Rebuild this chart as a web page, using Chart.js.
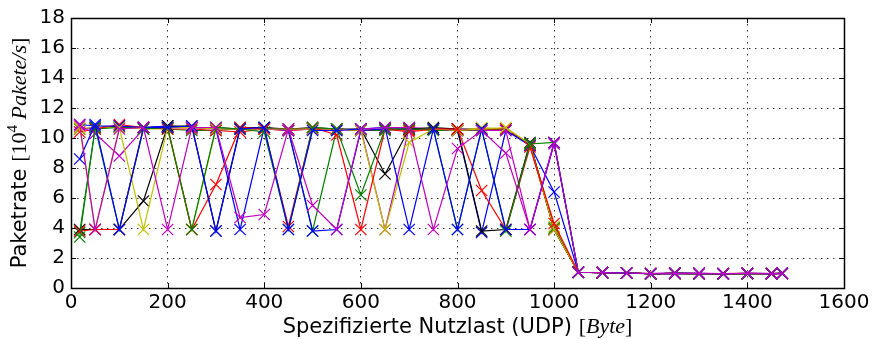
<!DOCTYPE html>
<html>
<head>
<meta charset="utf-8">
<script src="https://cdn.jsdelivr.net/npm/chart.js@4/dist/chart.umd.min.js"></script>
<style>
  html, body { margin: 0; padding: 0; background: #fff; }
  #wrap { width: 873px; height: 339px; }
</style>
</head>
<body>
<div id="wrap"><canvas id="rateChart" width="873" height="339"></canvas></div>
<script>
// payload sizes (UDP) in byte
var payload = [18, 50, 100, 150, 200, 250, 300, 350, 400, 450, 500, 550, 600, 650, 700, 750, 800, 850, 900, 950, 1000,
               1050, 1100, 1150, 1200, 1250, 1300, 1350, 1400, 1450, 1472];

// packet rate, 10^4 packets/s, one array per run
var runB1 = [8.6, 10.9, 3.9, 10.7, 10.7, 10.8, 3.8, 10.6, 10.7, 3.9, 10.5, 10.5, 10.6, 10.7, 3.9, 10.6, 3.9, 10.6, 3.9, 3.9, 9.7,
             1.05, 1.02, 1.0, 0.95, 0.98, 0.96, 0.95, 0.97, 0.96, 0.98];
var runB2 = [10.9, 10.8, 10.8, 10.7, 10.8, 10.7, 10.6, 3.9, 10.7, 10.5, 3.8, 3.9, 10.5, 10.6, 10.6, 10.6, 10.5, 3.7, 10.5, 9.5, 6.4,
             1.05, 1.02, 1.0, 0.96, 0.99, 0.97, 0.95, 0.96, 0.95, 0.97];
var runG1 = [3.4, 10.7, 3.9, 10.6, 10.7, 3.9, 10.7, 10.6, 10.4, 3.9, 10.7, 10.6, 6.2, 10.6, 10.6, 10.6, 3.9, 10.6, 3.8, 9.6, 9.7,
             1.05, 1.02, 1.0, 0.95, 0.97, 0.96, 0.95, 0.96, 0.96, 0.97];
var runG2 = [3.7, 10.6, 10.7, 10.7, 10.6, 10.5, 10.5, 10.6, 10.7, 10.5, 3.8, 10.6, 10.5, 10.5, 10.6, 10.5, 10.5, 10.5, 10.6, 9.6, 4.0,
             1.04, 1.02, 1.0, 0.95, 0.97, 0.96, 0.95, 0.96, 0.95, 0.97];
var runR1 = [3.8, 3.9, 3.9, 10.7, 10.7, 3.9, 6.9, 10.7, 10.6, 4.1, 10.7, 10.2, 3.9, 10.6, 10.5, 10.6, 10.6, 6.5, 3.9, 9.4, 4.3,
             1.05, 1.02, 1.0, 0.96, 0.97, 0.96, 0.95, 0.97, 0.96, 0.97];
var runR2 = [10.4, 10.6, 10.9, 10.7, 10.6, 10.6, 10.5, 10.4, 10.6, 10.5, 10.6, 10.6, 10.5, 10.6, 10.4, 10.6, 10.5, 10.6, 10.6, 9.5, 3.9,
             1.05, 1.02, 1.0, 0.95, 0.98, 0.96, 0.96, 0.97, 0.95, 0.98];
var runM1 = [10.9, 3.9, 10.6, 10.7, 3.9, 10.7, 10.7, 4.7, 4.9, 10.6, 5.5, 3.9, 10.6, 10.7, 10.7, 3.9, 9.3, 10.5, 9.0, 3.9, 9.7,
             1.05, 1.02, 1.0, 0.96, 0.98, 0.97, 0.96, 0.97, 0.96, 0.98];
var runM2 = [10.8, 10.3, 8.8, 10.6, 10.7, 10.7, 10.6, 10.6, 10.6, 10.5, 10.6, 10.5, 10.6, 3.9, 10.7, 10.6, 10.6, 10.5, 10.5, 3.9, 9.6,
             1.05, 1.02, 1.0, 0.96, 0.98, 0.97, 0.95, 0.97, 0.96, 0.98];
var runY1 = [10.7, 3.9, 10.7, 3.9, 10.7, 10.7, 10.6, 10.6, 10.6, 10.6, 10.6, 10.6, 10.5, 3.9, 9.7, 10.6, 10.5, 10.6, 10.7, 9.6, 3.9,
             1.05, 1.02, 1.0, 0.95, 0.97, 0.96, 0.95, 0.96, 0.96, 0.97];
var runY2 = [10.6, 10.7, 10.7, 10.6, 10.6, 3.9, 10.6, 10.6, 10.6, 10.5, 10.6, 10.6, 10.5, 10.6, 10.5, 10.6, 10.5, 10.7, 10.6, 9.6, 4.1,
             1.05, 1.02, 1.0, 0.95, 0.97, 0.96, 0.95, 0.96, 0.95, 0.97];
var runK1 = [3.9, 3.9, 3.9, 5.8, 10.8, 10.8, 3.8, 10.7, 10.7, 10.6, 10.7, 10.6, 10.6, 7.6, 10.6, 10.7, 10.6, 3.8, 3.9, 9.7, 3.9,
             1.05, 1.02, 1.0, 0.94, 0.97, 0.95, 0.94, 0.96, 0.95, 0.97];
var runK2 = [10.6, 10.7, 10.8, 10.7, 10.8, 10.7, 10.7, 10.6, 10.6, 10.6, 10.6, 10.6, 10.5, 10.6, 10.6, 10.6, 10.6, 10.6, 10.6, 9.6, 3.9,
             1.05, 1.02, 1.0, 0.95, 0.97, 0.96, 0.95, 0.96, 0.96, 0.97];

// Chart.js paints dataset 0 on top, so magenta/blue come first
var runs   = [runM1, runB1, runG1, runR1, runY1, runK1, runM2, runB2, runR2, runG2, runY2, runK2];
var colors = ['#bf00bf', '#0000ff', '#008000', '#ff0000', '#bfbf00', '#000000',
              '#bf00bf', '#0000ff', '#ff0000', '#008000', '#bfbf00', '#000000'];

var xTicks = [0, 200, 400, 600, 800, 1000, 1200, 1400, 1600];
var yTicks = [0, 2, 4, 6, 8, 10, 12, 14, 16, 18];

function drawMixed(ctx, parts, x, y) {
  // parts: [text, font, dy]
  var total = 0;
  parts.forEach(function (p) { ctx.font = p[1]; total += ctx.measureText(p[0]).width; });
  var cx = x - total / 2;
  parts.forEach(function (p) {
    ctx.font = p[1];
    ctx.fillText(p[0], cx, y + (p[2] || 0));
    cx += ctx.measureText(p[0]).width;
  });
}

var frame = {
  id: 'frame',
  afterDraw: function (chart) {
    var ctx = chart.ctx, a = chart.chartArea;
    var xs = chart.scales.x, ys = chart.scales.y;
    ctx.save();
    ctx.strokeStyle = '#000';
    ctx.lineWidth = 1;
    // inward tick marks
    ctx.beginPath();
    xTicks.forEach(function (v) {
      var px = Math.round(xs.getPixelForValue(v)) + 0.5;
      ctx.moveTo(px, a.bottom); ctx.lineTo(px, a.bottom - 5);
      ctx.moveTo(px, a.top); ctx.lineTo(px, a.top + 5);
    });
    yTicks.forEach(function (v) {
      var py = Math.round(ys.getPixelForValue(v)) + 0.5;
      ctx.moveTo(a.left, py); ctx.lineTo(a.left + 5, py);
      ctx.moveTo(a.right, py); ctx.lineTo(a.right - 5, py);
    });
    ctx.stroke();
    ctx.lineWidth = 1.5;
    ctx.strokeRect(Math.round(a.left) + 0.5, Math.round(a.top) + 0.5,
                   Math.round(a.right - a.left), Math.round(a.bottom - a.top));

    // axis titles
    ctx.fillStyle = '#000';
    ctx.textBaseline = 'alphabetic';
    drawMixed(ctx, [
      ['Spezifizierte Nutzlast (UDP) ', '21px "DejaVu Sans"'],
      ['[', '22px "Liberation Serif"'],
      ['Byte', 'italic 22px "Liberation Serif"'],
      [']', '22px "Liberation Serif"']
    ], (a.left + a.right) / 2, 333);

    ctx.translate(26, (a.top + a.bottom) / 2);
    ctx.rotate(-Math.PI / 2);
    drawMixed(ctx, [
      ['Paketrate ', '21px "DejaVu Sans"'],
      ['[10', '22px "Liberation Serif"'],
      ['4', '15px "Liberation Serif"', -9],
      [' Pakete/s', 'italic 22px "Liberation Serif"'],
      [']', '22px "Liberation Serif"']
    ], 0, 0);
    ctx.restore();
  }
};

var datasets = runs.map(function (vals, i) {
  return {
    data: vals.map(function (v, j) { return { x: payload[j], y: v }; }),
    borderColor: colors[i],
    backgroundColor: colors[i],
    borderWidth: 1.2,
    pointStyle: 'crossRot',
    pointRadius: 8,
    pointBorderWidth: 1.2,
    tension: 0
  };
});

function plain(v) { return String(v); }

new Chart(document.getElementById('rateChart').getContext('2d'), {
  type: 'line',
  data: { datasets: datasets },
  plugins: [frame],
  options: {
    responsive: false,
    animation: false,
    devicePixelRatio: 1,
    layout: { padding: { left: 0, right: 29, top: 16, bottom: 0 } },
    plugins: { legend: { display: false }, tooltip: { enabled: false } },
    scales: {
      x: {
        type: 'linear', min: 0, max: 1600,
        afterFit: function (s) { s.height = 51; },
        afterBuildTicks: function (s) { s.ticks = xTicks.map(function (v) { return { value: v }; }); },
        grid: { color: '#000', lineWidth: 0.8, drawTicks: false },
        border: { display: false, dash: [1.5, 4.5] },
        ticks: { color: '#000', font: { family: 'DejaVu Sans', size: 20 }, padding: 3, maxRotation: 0, callback: plain }
      },
      y: {
        min: 0, max: 18,
        afterFit: function (s) { s.width = 71; },
        afterBuildTicks: function (s) { s.ticks = yTicks.map(function (v) { return { value: v }; }); },
        grid: { color: '#000', lineWidth: 0.8, drawTicks: false },
        border: { display: false, dash: [1.5, 4.5] },
        ticks: { color: '#000', font: { family: 'DejaVu Sans', size: 20 }, padding: 6, callback: plain }
      }
    }
  }
});
</script>
</body>
</html>
